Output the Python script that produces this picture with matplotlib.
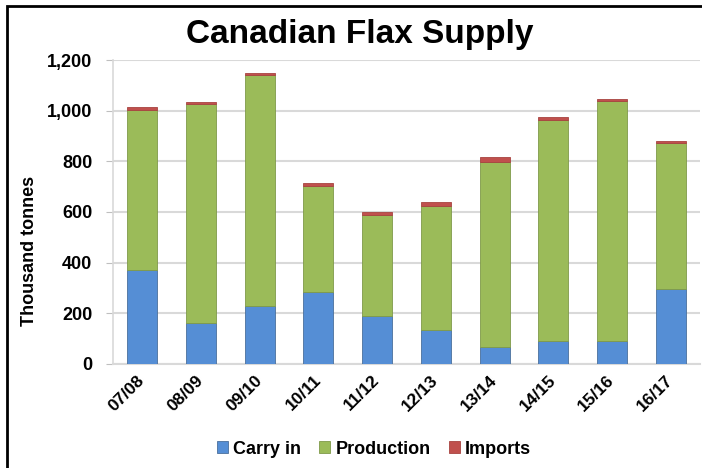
import numpy as np
import matplotlib.pyplot as plt
from matplotlib.patches import Rectangle

plt.rcParams['font.family'] = ['Liberation Sans', 'DejaVu Sans']

years = ['07/08', '08/09', '09/10', '10/11', '11/12', '12/13', '13/14', '14/15', '15/16', '16/17']
carry_in = [371, 163, 229, 286, 189, 134, 68, 89, 92, 296]
production = [631, 863, 913, 418, 400, 491, 731, 874, 945, 575]
imports = [11, 8, 8, 10, 11, 13, 17, 12, 10, 11]

fig = plt.figure(figsize=(7.02, 4.68), dpi=100)
ax = fig.add_axes([113/702, 1 - 364/468, 587/702, 304/468])

x = np.arange(len(years))
w = 0.51
carry_in = np.array(carry_in)
production = np.array(production)
imports = np.array(imports)
ax.bar(x, carry_in, w, color='#558ed5', edgecolor='#4a6f9c', linewidth=0.6, label='Carry in', zorder=3)
ax.bar(x, production, w, bottom=carry_in, color='#9bbb59', edgecolor='#7f9a4a', linewidth=0.6, label='Production', zorder=3)
ax.bar(x, imports, w, bottom=carry_in + production, color='#c0504d', edgecolor='#a84340', linewidth=0.6, label='Imports', zorder=3)

ax.set_xlim(-0.5, 9.5)
ax.set_ylim(0, 1200)
ax.set_yticks(range(0, 1201, 200))
ax.set_yticklabels([f'{v:,}' for v in range(0, 1201, 200)], fontsize=13, fontweight='bold')
ax.set_xticks(x)
ax.set_xticklabels(years, rotation=45, ha='right', va='center', rotation_mode='anchor',
                   fontsize=12.5, fontweight='bold')
ax.tick_params(axis='x', length=0, pad=10)
ax.tick_params(axis='y', length=5, color='#bfbfbf', pad=10)
ax.grid(axis='y', color='#d9d9d9', linewidth=1.5, zorder=0)
for s in ['top', 'right']:
    ax.spines[s].set_visible(False)
ax.spines['left'].set_color('#d9d9d9')
ax.spines['bottom'].set_color('#d9d9d9')
ax.spines['left'].set_linewidth(1.2)
ax.spines['bottom'].set_linewidth(1.5)

fig.text(30/702, 1 - 251/468, 'Thousand tonnes', fontsize=13, fontweight='bold',
         rotation=90, ha='center', va='center')
fig.text(360/702, 1 - 34/468, 'Canadian Flax Supply', fontsize=24, fontweight='bold',
         ha='center', va='center')
fig.legend(loc='center', bbox_to_anchor=(374/702, 1 - 449/468), ncol=3, frameon=False,
           prop={'size': 13, 'weight': 'bold'}, handlelength=0.6, handleheight=0.6,
           handletextpad=0.3, columnspacing=1.0)

fig.patches.append(Rectangle((7/702, -0.1), 1.1, 1 - 6/468 + 0.1, transform=fig.transFigure,
                             fill=False, edgecolor='black', linewidth=2))

fig.savefig('out.png', dpi=100)
